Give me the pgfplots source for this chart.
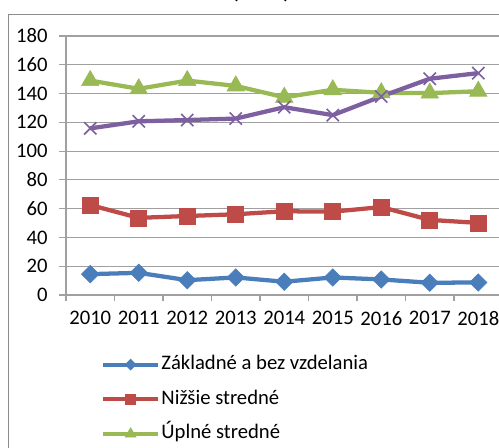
\documentclass[border=0pt]{standalone}
\usepackage{pgfplots}
\pgfplotsset{compat=1.18}
\usepackage{fontspec}
\setmainfont{Carlito}
\definecolor{cblue}{HTML}{4A7EBB}
\definecolor{cred}{HTML}{BE4B48}
\definecolor{cgreen}{HTML}{98B954}
\definecolor{cpurple}{HTML}{7D60A0}
\definecolor{cgrid}{HTML}{A0A0A0}
\definecolor{cborder}{HTML}{8C8C8C}
\begin{document}
\begin{tikzpicture}[x=0.75pt,y=0.75pt]
\useasboundingbox (0,0) rectangle (499,448);
\clip (0,0) rectangle (499,448);
\fontsize{15.5}{18}\selectfont
\draw[cborder,line width=0.8pt] (8.5,-20) rectangle (520,433.5);
\node[font=\fontsize{17}{20}\selectfont\bfseries,anchor=base] at (261,449.5) {(v tis.)};
\begin{axis}[
  at={(49.5pt,114.75pt)}, anchor=south west,
  scale only axis, width=327.4pt, height=194.25pt,
  xmin=-0.5, xmax=8.5, ymin=0, ymax=180,
  axis x line*=bottom, axis y line*=left,
  axis line style={cgrid, line width=0.9pt},
  ytick={0,20,...,180},
  xtick={0,...,8},
  xticklabels={2010,2011,2012,2013,2014,2015,2016,2017,2018},
  minor xtick={-0.5,0.5,...,8.5},
  major x tick style={draw=none},
  minor x tick style={cgrid, line width=0.9pt},
  y tick style={cgrid, line width=0.9pt},
  tick align=outside,
  major tick length=5pt, minor tick length=4.5pt,
  ymajorgrids, grid style={cgrid, line width=0.9pt},
  tick label style={font=\fontsize{15.5}{18}\selectfont},
  /pgf/number format/assume math mode=true,
  yticklabel style={xshift=-3.5pt},
  xticklabel style={yshift=-2pt},
  legend style={draw=none, fill=none, at={(axis description cs:0.08,-0.228)}, anchor=north west,
    font=\fontsize{15.5}{18}\selectfont, row sep=10.5pt, inner sep=0pt,
    nodes={inner sep=1pt, text height=10.5pt, text depth=3pt}},
  legend cell align=left,
  legend image code/.code={\draw[mark repeat=2,mark phase=2,every mark/.append style={scale=0.62}] plot coordinates {(0pt,0pt)(20.5pt,0pt)(41pt,0pt)};},
  clip=false,
]
\addplot[cblue, line width=3.2pt, mark=square*, mark size=4.6pt, mark options={rotate=45, line width=0.5pt, fill=cblue}]
  coordinates {(0,14.5)(1,15.4)(2,10.3)(3,12.2)(4,9.2)(5,12.2)(6,10.8)(7,8.5)(8,8.7)};
\addlegendentry{Základné a bez vzdelania}
\addplot[cred, line width=3.2pt, mark=square*, mark size=6pt, mark options={line width=0.5pt, fill=cred}]
  coordinates {(0,62.5)(1,53.6)(2,54.9)(3,56.1)(4,58.2)(5,57.9)(6,61.1)(7,52.2)(8,50.1)};
\addlegendentry{Nižšie stredné}
\addplot[cgreen, line width=3.2pt, mark=triangle*, mark size=7.5pt, mark options={line width=0.5pt, fill=cgreen}]
  coordinates {(0,149)(1,143.3)(2,149)(3,145.3)(4,137.4)(5,142.6)(6,140.5)(7,140.3)(8,141.6)};
\addlegendentry{Úplné stredné}
\addplot[cpurple, line width=3.2pt, mark=x, mark size=6.5pt, mark options={line width=1.2pt}]
  coordinates {(0,115.8)(1,120.7)(2,121.6)(3,122.6)(4,130.5)(5,125)(6,138)(7,150.3)(8,154.2)};
\addlegendentry{Vysokoškolské}
\end{axis}
\end{tikzpicture}
\end{document}
